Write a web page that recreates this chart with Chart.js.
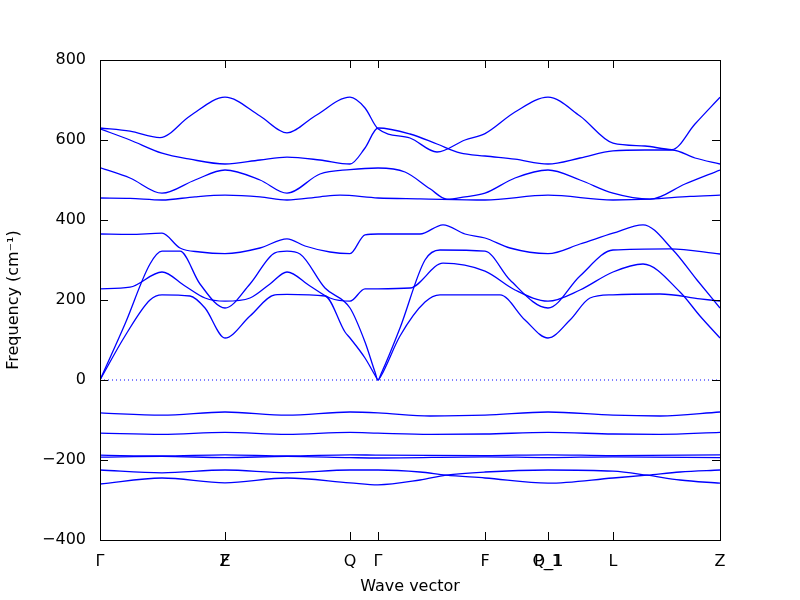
<!DOCTYPE html>
<html><head><meta charset="utf-8">
<script src="https://cdn.jsdelivr.net/npm/chart.js@4/dist/chart.umd.min.js"></script>
<style>body{margin:0;background:#fff}</style></head>
<body><canvas id="c" width="800" height="600"></canvas>
<script>
const tickPositions = [0, 125, 125, 250, 278, 385, 448, 448, 513, 620];
const tickLabels = ['Γ', 'F', 'Z', 'Q', 'Γ', 'F', 'P_1', 'Q_1', 'L', 'Z'];
const yTicks = [-400, -200, 0, 200, 400, 600, 800];

const bandTop1 = [[0,630],[30,622],[60,606],[90,660],[125,707],[160,660],[187,618],[215,660],[250,707],[265,680],[278,628],[310,605],[337,570],[365,600],[385,616],[415,670],[448,707],[480,660],[513,592],[545,585],[572,576],[595,640],[620,707]];
const bandTop2 = [[0,628],[30,600],[62,567],[90,552],[125,540],[160,550],[187,557],[220,550],[250,540],[265,580],[278,630],[310,615],[337,590],[360,568],[385,560],[415,552],[448,540],[480,555],[513,573],[545,575],[572,575],[595,555],[620,540]];
const band530 = [[0,531],[30,505],[62,467],[95,500],[125,525],[160,500],[187,467],[220,515],[250,526],[278,530],[305,520],[330,478],[347,452],[365,458],[385,467],[415,505],[448,525],[480,500],[513,467],[550,452],[585,490],[620,525]];
const band455 = [[0,455],[30,454],[62,450],[95,458],[125,462],[160,458],[187,450],[220,458],[240,462],[278,455],[320,453],[385,450],[448,462],[513,450],[550,452],[590,459],[620,462]];
const band363 = [[0,365],[30,364],[62,367],[80,330],[100,320],[125,316],[160,330],[187,353],[205,335],[230,320],[250,316],[265,363],[278,365],[320,365],[343,388],[365,365],[385,355],[410,330],[448,316],[480,340],[513,367],[543,388],[573,325],[597,250],[620,180]];
const bandOpt = [[0,0],[25,140],[50,290],[62,322],[80,322],[100,240],[125,180],[150,240],[175,318],[187,322],[200,315],[225,230],[250,180],[265,95],[275,20],[278,0],[281,15],[300,130],[325,300],[340,325],[385,322],[410,250],[448,180],[480,260],[513,325],[570,328],[620,315]];
const band228 = [[0,228],[30,232],[62,270],[85,235],[105,205],[125,197],[150,205],[170,240],[187,270],[210,235],[230,205],[250,197],[265,228],[278,228],[310,230],[343,292],[385,272],[415,225],[448,197],[480,225],[513,270],[543,290],[580,220],[600,160],[620,105]];
const bandAc = [[0,0],[25,110],[50,200],[62,213],[90,210],[105,180],[125,105],[150,160],[175,213],[187,214],[225,210],[245,120],[250,105],[265,55],[275,12],[278,0],[281,10],[300,110],[325,195],[340,213],[400,213],[425,150],[448,105],[470,150],[490,205],[513,213],[560,215],[600,203],[620,197]];
const bandN82 = [[0,-82],[62,-88],[125,-80],[187,-88],[250,-80],[278,-82],[330,-90],[385,-88],[448,-80],[513,-88],[560,-90],[620,-80]];
const bandN133 = [[0,-133],[62,-136],[125,-131],[187,-136],[250,-131],[278,-133],[330,-136],[385,-135],[448,-131],[513,-135],[560,-136],[620,-131]];
const bandN188 = [[0,-188],[62,-190],[125,-187],[187,-190],[250,-187],[278,-188],[385,-189],[448,-187],[513,-189],[620,-187]];
const bandN193 = [[0,-193],[62,-191],[125,-194],[187,-191],[250,-194],[278,-195],[385,-192],[448,-194],[513,-192],[620,-194]];
const bandN225 = [[0,-225],[62,-232],[125,-225],[187,-232],[250,-225],[278,-225],[320,-230],[346,-238],[385,-245],[448,-258],[513,-245],[547,-238],[580,-230],[620,-225]];
const bandN260 = [[0,-260],[62,-245],[125,-257],[187,-245],[250,-257],[278,-262],[320,-250],[346,-238],[385,-230],[448,-225],[513,-228],[547,-238],[580,-250],[620,-258]];
const zeroLine = [[0,0],[620,0]];

const bands = [bandTop1,bandTop2,band530,band455,band363,bandOpt,band228,bandAc,bandN82,bandN133,bandN188,bandN193,bandN225,bandN260];
const datasets = bands.map(b => ({data: b.map(p => ({x:p[0], y:p[1]})), borderColor:'#0000ff', borderWidth:1.3, pointRadius:0, cubicInterpolationMode:'monotone', fill:false}));
datasets.push({data: zeroLine.map(p=>({x:p[0],y:p[1]})), borderColor:'#0000ff', borderWidth:1, borderDash:[1,3], pointRadius:0});

const frame = {id:'frame', afterDraw(c){const a=c.chartArea,x=c.ctx;x.save();x.strokeStyle='#000';x.lineWidth=1;x.strokeRect(a.left+0.5,a.top+0.5,a.right-a.left,a.bottom-a.top);
  x.beginPath();
  const xs=c.scales.x, ys=c.scales.y;
  tickPositions.forEach(v=>{const px=Math.round(xs.getPixelForValue(v))+0.5;x.moveTo(px,a.bottom);x.lineTo(px,a.bottom-8);x.moveTo(px,a.top);x.lineTo(px,a.top+8);});
  yTicks.forEach(v=>{const py=Math.round(ys.getPixelForValue(v))+0.5;x.moveTo(a.left,py);x.lineTo(a.left+8,py);x.moveTo(a.right,py);x.lineTo(a.right-8,py);});
  x.stroke();x.restore();}};

new Chart(document.getElementById('c'), {
  type:'line', data:{datasets},
  options:{responsive:false, animation:false, events:[],
    layout:{padding:{left:0,right:80,top:60,bottom:0}},
    plugins:{legend:{display:false}, tooltip:{enabled:false}},
    scales:{
      x:{type:'linear', min:0, max:620,
        afterBuildTicks(s){s.ticks=tickPositions.map(v=>({value:v}));},
        afterFit(s){s.height=60;},
        ticks:{autoSkip:false, maxRotation:0, color:'#000', font:{family:'DejaVu Sans',size:16}, padding:4,
          callback(v,i){return tickLabels[i];}},
        grid:{display:false}, border:{display:false},
        title:{display:true, text:'Wave vector', color:'#000', font:{family:'DejaVu Sans',size:16}, padding:{top:0}}},
      y:{min:-400, max:800,
        afterBuildTicks(s){s.ticks=yTicks.map(v=>({value:v}));},
        afterFit(s){s.width=100;},
        ticks:{color:'#000', font:{family:'DejaVu Sans',size:16}, padding:6,
          callback(v){return String(v).replace('-','\u2212');}},
        grid:{display:false}, border:{display:false},
        title:{display:true, text:'Frequency (cm⁻¹)', color:'#000', font:{family:'DejaVu Sans',size:16}}}
    }},
  plugins:[frame]
});
</script></body></html>
